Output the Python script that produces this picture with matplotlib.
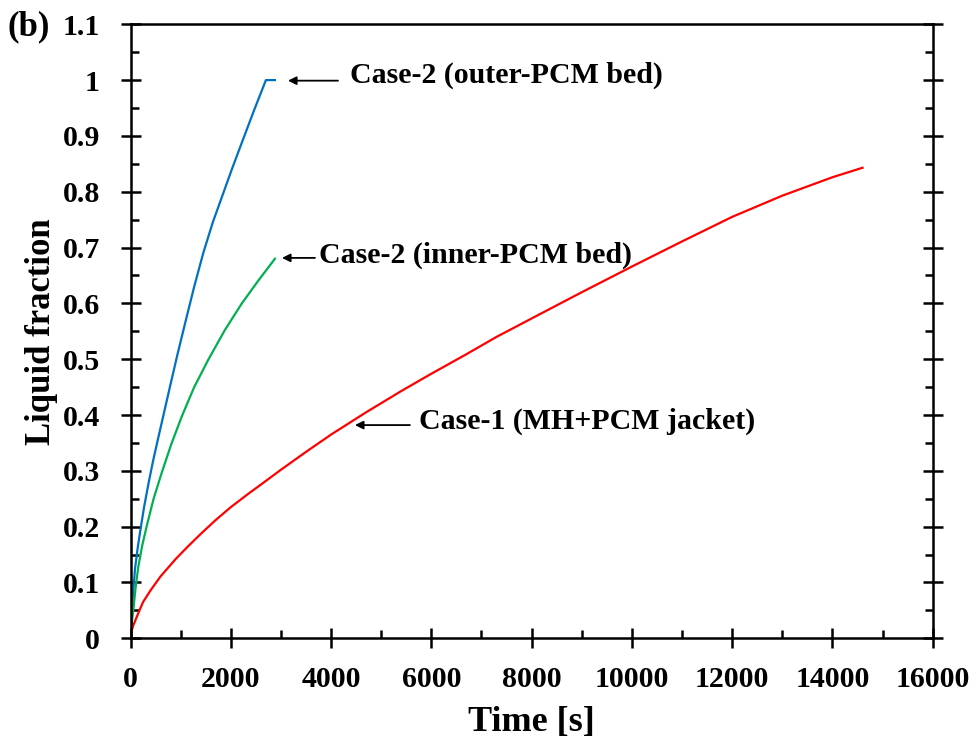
import matplotlib.pyplot as plt
from matplotlib.ticker import MultipleLocator, FuncFormatter

# Case-2 outer-PCM bed (blue)
t_outer = [0, 10, 25, 50, 90, 140, 190, 270, 360, 450, 550, 670, 790, 940, 1090,
           1270, 1450, 1640, 1820, 2020, 2220, 2460, 2700, 2880]
lf_outer = [0, 0.02, 0.045, 0.08, 0.125, 0.16, 0.19, 0.235, 0.278, 0.318, 0.358, 0.405,
            0.452, 0.51, 0.565, 0.63, 0.69, 0.745, 0.79, 0.84, 0.888, 0.945, 1.0, 1.0]

# Case-2 inner-PCM bed (green)
t_inner = [0, 20, 55, 100, 155, 230, 320, 460, 620, 810, 1020, 1270, 1550, 1880,
           2220, 2550, 2880]
lf_inner = [0, 0.025, 0.05, 0.09, 0.128, 0.165, 0.2, 0.25, 0.296, 0.347, 0.397, 0.45,
            0.499, 0.552, 0.6, 0.641, 0.68]

# Case-1 MH+PCM jacket (red)
t_case1 = [0, 20, 50, 100, 150, 250, 400, 600, 900, 1150, 1400, 1700, 2000, 2350, 2700,
           3000, 3500, 4000, 4700, 5400, 6000, 6700, 7300, 8000, 9000, 10000, 11000,
           12000, 13000, 14000, 14600]
lf_case1 = [0, 0.012, 0.022, 0.033, 0.044, 0.065, 0.086, 0.111, 0.142, 0.165, 0.187, 0.212,
            0.235, 0.259, 0.282, 0.302, 0.334, 0.365, 0.405, 0.443, 0.474, 0.509, 0.54,
            0.573, 0.62, 0.666, 0.711, 0.755, 0.793, 0.826, 0.843]

font = 'Liberation Serif'
plt.rcParams['font.family'] = font
plt.rcParams['font.weight'] = 'bold'

fig = plt.figure(figsize=(9.77, 7.45), dpi=100)
ax = fig.add_axes([0.1336, 0.1432, 0.8211, 0.8242])

ax.plot(t_outer, lf_outer, color='#0070C0', lw=1.6)
ax.plot(t_inner, lf_inner, color='#00B050', lw=1.6)
ax.plot(t_case1, lf_case1, color='#FF0000', lw=1.6)

ax.set_xlim(0, 16000)
ax.set_ylim(0, 1.1)
ax.xaxis.set_major_locator(MultipleLocator(2000))
ax.xaxis.set_minor_locator(MultipleLocator(1000))
ax.yaxis.set_major_locator(MultipleLocator(0.1))
ax.yaxis.set_minor_locator(MultipleLocator(0.05))
ax.yaxis.set_major_formatter(FuncFormatter(lambda v, p: '%g' % round(v, 2)))

for s in ax.spines.values():
    s.set_linewidth(1.8)

ax.tick_params(which='major', direction='inout', length=14, width=1.8,
               labelsize=21.5, left=True, right=True, bottom=True, top=False)
ax.tick_params(axis='x', which='major', pad=13)
ax.tick_params(axis='y', which='major', pad=15)
ax.tick_params(which='minor', direction='in', length=5.5, width=1.8,
               left=True, right=True, bottom=True, top=False)
for lab in ax.get_xticklabels() + ax.get_yticklabels():
    lab.set_fontweight('bold')

ax.set_xlabel('Time [s]', fontsize=26, fontweight='bold', labelpad=9)
ax.set_ylabel('Liquid fraction', fontsize=25, fontweight='bold', labelpad=3)

arrow = dict(arrowstyle='-|>', color='black', lw=1.3, mutation_scale=12, shrinkA=0, shrinkB=0)

ax.annotate('', xy=(3141, 0.999), xytext=(4138, 0.999), arrowprops=arrow)
ax.text(4377, 0.995, 'Case-2 (outer-PCM bed)', fontsize=21.5, fontweight='bold', va='baseline')

ax.annotate('', xy=(3021, 0.6815), xytext=(3679, 0.6815), arrowprops=arrow)
ax.text(3758, 0.6726, 'Case-2 (inner-PCM bed)', fontsize=21.5, fontweight='bold', va='baseline')

ax.annotate('', xy=(4476, 0.382), xytext=(5573, 0.382), arrowprops=arrow)
ax.text(5753, 0.3747, 'Case-1 (MH+PCM jacket)', fontsize=21.5, fontweight='bold', va='baseline')

fig.text(0.008, 0.953, '(b)', fontsize=25, fontweight='bold', va='baseline')

plt.savefig('out.png', dpi=100)
